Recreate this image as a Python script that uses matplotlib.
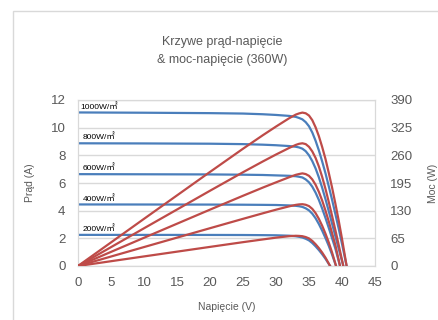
import matplotlib
matplotlib.use("Agg")
from matplotlib import pyplot as plt
from matplotlib.patches import Rectangle

plt.rcParams['font.family'] = ['Liberation Sans', 'Noto Sans CJK SC', 'DejaVu Sans']

# irradiance labels
labels = ['1000W/㎡', '800W/㎡', '600W/㎡', '400W/㎡', '200W/㎡']

# voltage (V), current (A), power (W)
v1000 = [0, 10, 20, 25, 28, 30, 32, 33, 33.5, 34, 34.5, 35, 35.5, 36, 36.5, 37, 37.5, 38, 38.5, 39, 39.5, 40, 40.7]
i1000 = [11.10, 11.08, 11.05, 11.02, 10.97, 10.92, 10.85, 10.78, 10.7, 10.6, 10.4, 10.1, 9.65, 9.05, 8.35,
         7.55, 6.7, 5.75, 4.78, 3.75, 2.7, 1.6, 0]
p1000 = [0, 110.8, 221, 275.5, 307.2, 327.6, 347.2, 355.7, 358.5, 360.4, 358.8, 353.5, 342.6, 325.8, 304.8,
         279.4, 251.3, 218.5, 184.0, 146.3, 106.7, 64, 0]

v800 = [0, 10, 20, 25, 28, 30, 32, 33, 33.5, 34, 34.5, 35, 35.5, 36, 36.5, 37, 37.5, 38, 38.5, 39, 39.5, 40.2]
i800 = [8.87, 8.86, 8.84, 8.81, 8.77, 8.73, 8.67, 8.62, 8.57, 8.48, 8.3, 8.0, 7.58, 7.05, 6.4, 5.65, 4.83,
        3.95, 3.05, 2.15, 1.25, 0]
p800 = [0, 88.6, 176.8, 220.3, 245.6, 261.9, 277.4, 284.5, 287.1, 288.3, 286.4, 280, 269.1, 253.8, 233.6,
        209.1, 181.1, 150.1, 117.4, 83.9, 49.4, 0]

v600 = [0, 10, 20, 25, 28, 30, 32, 33, 33.5, 34, 34.5, 35, 35.5, 36, 36.5, 37, 37.5, 38, 38.5, 39, 39.7]
i600 = [6.64, 6.63, 6.62, 6.60, 6.58, 6.55, 6.52, 6.49, 6.45, 6.4, 6.26, 6.05, 5.73, 5.3, 4.77, 4.15, 3.47,
        2.75, 2.0, 1.25, 0]
p600 = [0, 66.3, 132.4, 165, 184.2, 196.5, 208.6, 214.2, 216.1, 217.6, 216.0, 211.8, 203.4, 190.8, 174.1,
        153.6, 130.1, 104.5, 77, 48.8, 0]

v400 = [0, 10, 20, 25, 28, 30, 32, 33, 33.5, 34, 34.5, 35, 35.5, 36, 36.5, 37, 37.5, 38, 38.5, 39.1]
i400 = [4.45, 4.445, 4.44, 4.43, 4.42, 4.41, 4.38, 4.35, 4.32, 4.27, 4.17, 4.02, 3.78, 3.45, 3.03, 2.55,
        2.02, 1.45, 0.82, 0]
p400 = [0, 44.5, 88.8, 110.8, 123.8, 132.3, 140.2, 143.6, 144.7, 145.2, 143.9, 140.7, 134.2, 124.2, 110.6,
        94.4, 75.8, 55.1, 31.6, 0]

v200 = [0, 10, 20, 25, 28, 30, 32, 33, 33.5, 34, 34.5, 35, 35.5, 36, 36.5, 37, 37.5, 38.2]
i200 = [2.25, 2.248, 2.245, 2.24, 2.23, 2.22, 2.19, 2.15, 2.11, 2.06, 1.97, 1.85, 1.66, 1.42, 1.15, 0.85,
        0.52, 0]
p200 = [0, 22.5, 44.9, 56, 62.4, 66.6, 70.1, 71, 70.7, 70, 68.0, 64.8, 58.9, 51.1, 42.0, 31.5, 19.5, 0]

curves = [(v1000, i1000, p1000), (v800, i800, p800), (v600, i600, p600),
          (v400, i400, p400), (v200, i200, p200)]

grey = '#595959'
grid = '#d9d9d9'
blue = '#4a7ebb'
red = '#be4b48'

fig = plt.figure(figsize=(4.38, 3.2), dpi=100)
fig.patches.append(Rectangle((13 / 438, -0.1), 1.2, 1 - 11 / 320 + 0.1,
                             transform=fig.transFigure, fill=False,
                             edgecolor=grid, lw=1))

ax = fig.add_axes([78 / 438, 1 - 266 / 320, 297 / 438, 166 / 320])
ax2 = ax.twinx()

for (v, i, p), lab in zip(curves, labels):
    ax.plot(v, i, color=blue, lw=1.6, zorder=3)
    ax2.plot(v, p, color=red, lw=1.6, zorder=3)
    x0 = 0.3 if lab.startswith('1000') else 0.7
    ax.text(x0, i[0] + 0.42, lab, fontsize=6, color='black', va='center', ha='left', zorder=4)

ax.set_xlim(0, 45)
ax.set_ylim(0, 12)
ax2.set_ylim(0, 390)
ax.set_xticks(range(0, 46, 5))
ax.set_yticks(range(0, 13, 2))
ax2.set_yticks(range(0, 391, 65))
ax.yaxis.grid(True, color=grid, lw=1)
ax.set_axisbelow(True)

for a in (ax, ax2):
    for s in a.spines.values():
        s.set_color(grid)
    a.tick_params(length=0, labelsize=9.5, labelcolor=grey)
ax.tick_params(axis='y', pad=9)
ax.tick_params(axis='x', pad=8)
ax2.tick_params(axis='y', pad=11)

ax.set_ylabel('Prąd (A)', fontsize=7.5, color=grey)
ax.yaxis.set_label_coords(-43 / 297, 0.5)
ax.set_xlabel('Napięcie (V)', fontsize=7.5, color=grey)
ax.xaxis.set_label_coords(0.5, -36 / 166)
ax2.set_ylabel('Moc (W)', fontsize=7.5, color=grey, rotation=90)
ax2.yaxis.set_label_coords(1 + 53 / 297, 0.5)

fig.text(222 / 438, 1 - 42 / 320, 'Krzywe prąd-napięcie', ha='center', va='center', fontsize=9, color=grey)
fig.text(222 / 438, 1 - 60 / 320, '& moc-napięcie (360W)', ha='center', va='center', fontsize=9, color=grey)

fig.savefig('out.png', dpi=100)
